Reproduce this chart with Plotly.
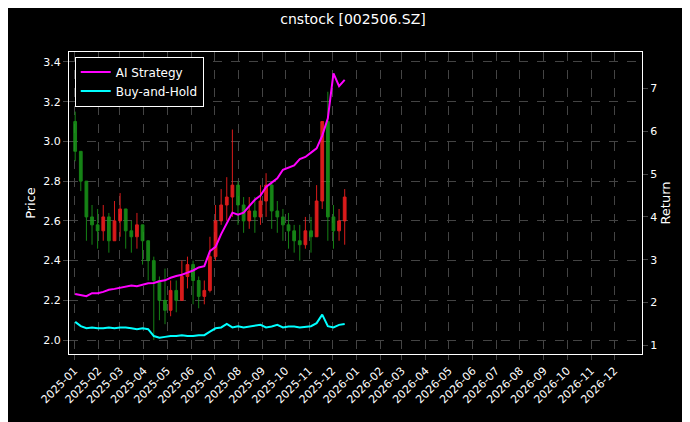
import plotly.graph_objects as go
import pandas as pd

dates = pd.date_range("2025-01-02", "2025-12-17", periods=49)
close = [2.95,2.80,2.62,2.58,2.55,2.62,2.50,2.60,2.66,2.55,2.52,2.58,2.50,2.40,2.30,2.20,2.15,2.25,2.20,2.32,2.38,2.30,2.22,2.25,2.42,2.60,2.68,2.72,2.78,2.68,2.60,2.65,2.62,2.70,2.78,2.65,2.62,2.58,2.55,2.50,2.48,2.55,2.52,2.70,3.10,2.62,2.55,2.60,2.72]
openp = [3.10] + close[:-1]
high = [3.15,2.95,2.70,2.68,2.66,2.68,2.64,2.70,2.74,2.62,2.60,2.64,2.58,2.48,2.42,2.32,2.36,2.30,2.30,2.40,2.42,2.40,2.32,2.30,2.52,2.68,2.76,2.82,3.06,2.80,2.72,2.72,2.72,2.78,2.84,2.80,2.70,2.66,2.64,2.58,2.58,2.62,2.62,2.78,3.00,3.25,2.68,2.66,2.76]
low = [2.90,2.75,2.50,2.48,2.46,2.50,2.44,2.50,2.52,2.46,2.44,2.46,2.38,2.30,2.00,2.10,2.08,2.12,2.14,2.20,2.26,2.18,2.16,2.18,2.24,2.40,2.58,2.60,2.62,2.58,2.54,2.56,2.54,2.58,2.62,2.56,2.54,2.50,2.46,2.44,2.40,2.46,2.44,2.56,2.66,2.50,2.46,2.50,2.48]
ai_ret = [2.20,2.18,2.15,2.22,2.22,2.25,2.30,2.32,2.35,2.38,2.40,2.38,2.42,2.45,2.46,2.50,2.52,2.58,2.62,2.65,2.70,2.75,2.82,2.85,3.20,3.30,3.60,3.85,4.10,4.05,4.10,4.25,4.40,4.50,4.70,4.80,4.90,5.10,5.15,5.20,5.35,5.40,5.50,5.60,5.90,6.30,7.35,7.05,7.20]
bh_ret = [1.55,1.45,1.40,1.42,1.40,1.40,1.42,1.40,1.42,1.42,1.40,1.38,1.40,1.38,1.22,1.18,1.20,1.22,1.22,1.24,1.22,1.22,1.24,1.24,1.32,1.40,1.42,1.50,1.42,1.45,1.42,1.44,1.46,1.48,1.42,1.44,1.48,1.42,1.44,1.44,1.42,1.44,1.45,1.52,1.72,1.45,1.42,1.48,1.50]
ticks = pd.date_range("2025-01-01", "2026-12-01", freq="MS")
ticklabels = [d.strftime("%Y-%m") for d in ticks]

fig = go.Figure()
fig.add_trace(go.Candlestick(x=dates, open=openp, high=high, low=low, close=close,
    increasing=dict(line=dict(color="#ff2020", width=1), fillcolor="#ff2020"),
    decreasing=dict(line=dict(color="#1a9a1a", width=1), fillcolor="#1a9a1a"),
    whiskerwidth=0, showlegend=False, opacity=0.85))
fig.add_trace(go.Scatter(x=dates, y=ai_ret, name="AI Strategy", yaxis="y2",
    line=dict(color="#ff00ff", width=2)))
fig.add_trace(go.Scatter(x=dates, y=bh_ret, name="Buy-and-Hold", yaxis="y2",
    line=dict(color="#00ffff", width=2)))

grid = dict(showgrid=True, gridcolor="#444", griddash="dash", gridwidth=0.5)
fig.update_layout(
    width=690, height=422, paper_bgcolor="black", plot_bgcolor="black",
    font=dict(family="DejaVu Sans", color="white", size=11),
    title=dict(text="cnstock [002506.SZ]", x=0.5, xanchor="center", y=0.985, yanchor="top", font=dict(size=14)),
    margin=dict(l=61, r=56, t=44, b=76),
    xaxis=dict(range=["2024-12-25", "2027-01-06"], tickvals=ticks, ticktext=ticklabels,
               tickangle=-45, rangeslider=dict(visible=False), ticks="outside",
               showline=True, linecolor="white", mirror=True, **grid),
    yaxis=dict(title=dict(text="Price", standoff=4), range=[1.93, 3.45], dtick=0.2, tickformat=".1f",
               ticks="outside", showline=True, linecolor="white", **grid),
    yaxis2=dict(title=dict(text="Return", standoff=4), overlaying="y", side="right", range=[0.8, 7.85],
                dtick=1, ticks="outside", showgrid=False, showline=True, linecolor="white"),
    legend=dict(x=0.01, y=0.985, xanchor="left", yanchor="top", bgcolor="black",
                bordercolor="white", borderwidth=1, font=dict(size=12)),
)
fig.write_html("out.html")
